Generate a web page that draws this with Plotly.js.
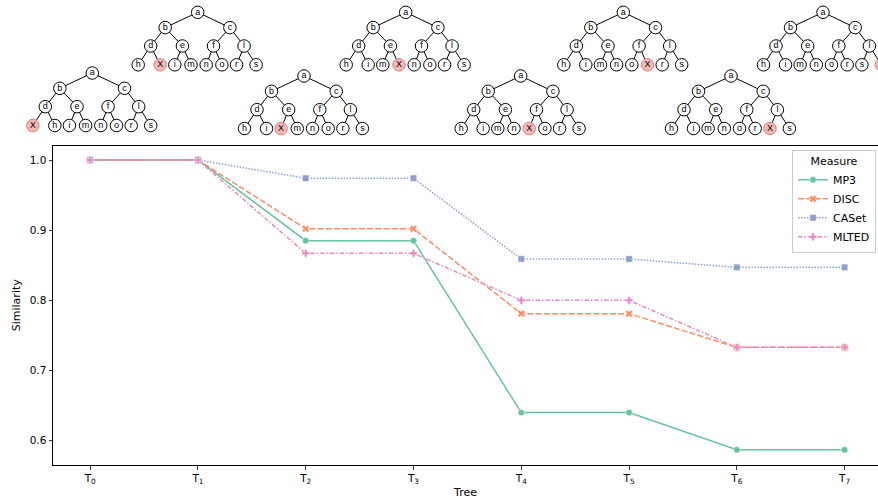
<!DOCTYPE html>
<html>
<head>
<meta charset="utf-8">
<script src="https://cdn.plot.ly/plotly-3.0.1.min.js"></script>
<style>html,body{margin:0;padding:0;background:#fff;}#chart{width:878px;height:502px;}</style>
</head>
<body>
<div id="chart"></div>
<script>
// ---- data ----
const trees = ['T0','T1','T2','T3','T4','T5','T6','T7'];
const tickLabels = ['T<sub>0</sub>','T<sub>1</sub>','T<sub>2</sub>','T<sub>3</sub>','T<sub>4</sub>','T<sub>5</sub>','T<sub>6</sub>','T<sub>7</sub>'];
const mp3   = [1.000, 1.000, 0.885, 0.885, 0.640, 0.640, 0.587, 0.587];
const disc  = [1.000, 1.000, 0.902, 0.902, 0.781, 0.781, 0.733, 0.733];
const caset = [1.000, 1.000, 0.974, 0.974, 0.859, 0.859, 0.847, 0.847];
const mlted = [1.000, 1.000, 0.867, 0.867, 0.800, 0.800, 0.733, 0.733];
const measures = ['MP3','DISC','CASet','MLTED'];
// tree node labels
const innerLabels = ['a','b','c','d','e','f','l'];
const baseLeaves = ['h','i','m','n','o','r','s'];
const insertedLabel = 'X';
const insertPos = [0,1,2,3,4,5,6,7];

// ---- layout config (positions / styles) ----
const W = 878, H = 502;
const treeRoots = [[92.3,73],[197.7,12.3],[304,76],[405.7,12.3],[520.7,76],[623.3,12.3],[731,76],[823,12.3]];
const innerOff = [[0,0],[-32.5,15.3],[32.2,15.3],[-47,33.7],[-15.3,33.7],[15.8,33.7],[46.4,33.7]];
const leafDX = [-59.5,-37.5,-22.9,-6.7,8.5,24.2,38.9,58.4];
const leafDY = 52.5;
const parentOfInner = [null,0,0,1,1,2,2];
const colors = ['#66c2a5','#fc8d62','#8da0cb','#e78ac3'];
const dashes = ['solid','6px,2.25px','1.5px,1.5px','4.5px,1.9px,1.5px,1.9px'];
const symbols = ['circle','x','square','cross'];

const xIdx = trees.map((t,i)=>i);
const series = [mp3, disc, caset, mlted];
const data = [];
series.forEach((ys, k) => {
  data.push({
    x: xIdx, y: ys, name: measures[k], type: 'scatter', mode: 'lines+markers',
    line: {color: colors[k], width: 1.5, dash: dashes[k]},
    marker: {symbol: symbols[k], size: 6.5, color: colors[k], line: {color: '#fff', width: 0.5}},
    xaxis: 'x', yaxis: 'y', cliponaxis: false
  });
});

// trees
const ex = [], ey = [];
const nx = [], ny = [], nt = [], nfill = [], nline = [];
treeRoots.forEach((r, ti) => {
  const leaves = baseLeaves.slice();
  leaves.splice(insertPos[ti], 0, insertedLabel);
  const inner = innerOff.map(o => [r[0]+o[0], r[1]+o[1]]);
  for (let i = 1; i < 7; i++) {
    const p = inner[parentOfInner[i]];
    ex.push(p[0], inner[i][0], null); ey.push(p[1], inner[i][1], null);
  }
  const leafPts = leafDX.map(dx => [r[0]+dx, r[1]+leafDY]);
  leafPts.forEach((lp, j) => {
    const p = inner[3 + Math.floor(j/2)];
    ex.push(p[0], lp[0], null); ey.push(p[1], lp[1], null);
  });
  inner.forEach((p, i) => { nx.push(p[0]); ny.push(p[1]); nt.push(innerLabels[i]); nfill.push('#ffffff'); nline.push('#000000'); });
  leafPts.forEach((p, j) => {
    nx.push(p[0]); ny.push(p[1]); nt.push(leaves[j]);
    const isX = leaves[j] === insertedLabel;
    nfill.push(isX ? '#f4b9b6' : '#ffffff'); nline.push(isX ? '#e07f7b' : '#000000');
  });
});
data.push({x: ex, y: ey, type: 'scatter', mode: 'lines', line: {color: '#000', width: 1}, xaxis: 'x2', yaxis: 'y2', showlegend: false, hoverinfo: 'skip', cliponaxis: false});
data.push({x: nx, y: ny, text: nt, type: 'scatter', mode: 'markers+text', textposition: 'middle center',
  textfont: {family: 'Liberation Sans, Arial, sans-serif', size: 9, color: '#000'},
  marker: {symbol: 'circle', size: 12.5, color: nfill, line: {color: nline, width: 1}},
  xaxis: 'x2', yaxis: 'y2', showlegend: false, hoverinfo: 'skip', cliponaxis: true});

const plotL = 53, plotR = 878, plotT = 145.5, plotB = 465;
const layout = {
  width: W, height: H,
  margin: {l: 0, r: 0, t: 0, b: 0, pad: 0},
  paper_bgcolor: '#fff', plot_bgcolor: 'rgba(0,0,0,0)',
  font: {family: 'DejaVu Sans, sans-serif', size: 11, color: '#000'},
  showlegend: true,
  xaxis: {
    domain: [plotL/W, plotR/W], range: [-0.345, 7.31], anchor: 'y',
    tickvals: xIdx, ticktext: tickLabels, ticks: 'outside', ticklen: 3.5, tickwidth: 0.8, tickcolor: '#000',
    showline: true, linecolor: '#000', linewidth: 1, mirror: true, showgrid: false, zeroline: false,
    automargin: false, tickfont: {size: 10.5},
    title: {text: 'Tree', font: {size: 11}, standoff: 2}
  },
  yaxis: {
    domain: [(H-plotB)/H, (H-plotT)/H], range: [0.5653, 1.0207], anchor: 'x',
    tickvals: [0.6,0.7,0.8,0.9,1.0], tickformat: '.1f', ticks: 'outside', ticklen: 3.5, tickwidth: 0.8, tickcolor: '#000',
    showline: true, linecolor: '#000', linewidth: 1, mirror: false, showgrid: false, zeroline: false,
    automargin: false, tickfont: {size: 10.5},
    title: {text: 'Similarity', font: {size: 11}, standoff: 6}
  },
  xaxis2: {domain: [0,1], range: [0, W], anchor: 'y2', visible: false, fixedrange: true},
  yaxis2: {domain: [0,1], range: [H, 0], anchor: 'x2', visible: false, fixedrange: true},
  legend: {
    x: 876/W, xanchor: 'right', y: (H-150)/H, yanchor: 'top',
    bgcolor: 'rgba(255,255,255,0.8)', bordercolor: '#cccccc', borderwidth: 1,
    font: {size: 11}, title: {text: 'Measure', side: 'top center', font: {size: 11}},
    tracegroupgap: 0, itemwidth: 30
  }
};
Plotly.newPlot('chart', data, layout, {displayModeBar: false, staticPlot: true});
</script>
</body>
</html>
